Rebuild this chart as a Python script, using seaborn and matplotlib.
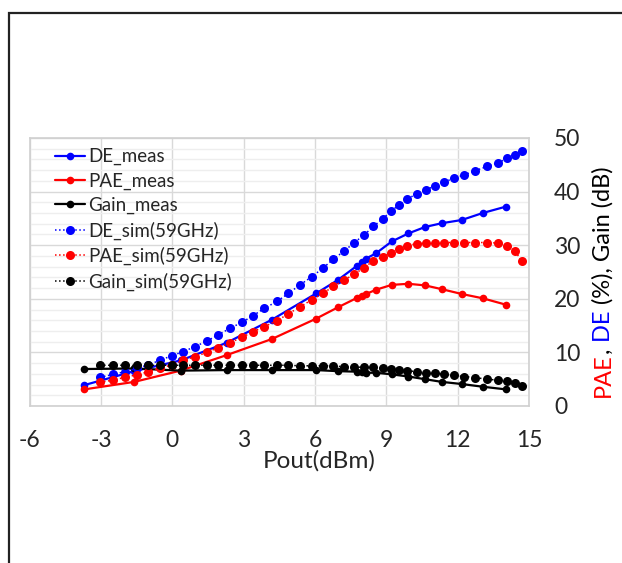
import matplotlib
matplotlib.use("Agg")
import matplotlib.pyplot as plt
import seaborn as sns
from matplotlib.ticker import MultipleLocator
from matplotlib.patches import Rectangle

# measured points
pout_meas = [-3.7, -1.6, 0.35, 2.29, 4.19, 6.05, 6.96, 7.78, 7.96, 8.15, 8.57,
             9.23, 9.93, 10.63, 11.33, 12.17, 13.05, 14.03]
de_meas = [3.9, 6.5, 8.5, 11.8, 16.1, 21.0, 23.5, 26.2, 26.8, 27.5, 28.5,
           30.7, 32.2, 33.4, 34.1, 34.7, 36.0, 37.2]
pae_meas = [3.1, 4.5, 6.6, 9.5, 12.5, 16.3, 18.4, 20.2, 20.5, 20.9, 21.7,
            22.6, 22.8, 22.5, 21.8, 20.9, 20.1, 18.9]
gain_meas = [6.9, 7.0, 6.6, 6.7, 6.7, 6.7, 6.5, 6.4, 6.3, 6.2, 6.2,
             5.9, 5.5, 5.0, 4.5, 4.1, 3.6, 3.1]

# simulation 59GHz
pout_sim = [-3.04, -2.48, -1.99, -1.50, -1.01, -0.52, -0.02, 0.44, 0.96, 1.45,
            1.94, 2.43, 2.92, 3.38, 3.86, 4.40, 4.88, 5.37, 5.86, 6.33,
            6.77, 7.23, 7.65, 8.07, 8.45, 8.85, 9.18, 9.53, 9.88, 10.28,
            10.66, 11.05, 11.44, 11.85, 12.27, 12.73, 13.25, 13.71, 14.09, 14.41,
            14.69]
de_sim = [5.35, 5.9, 6.4, 7.0, 7.7, 8.5, 9.4, 10.1, 11.1, 12.1,
          13.3, 14.5, 15.6, 16.8, 18.2, 19.5, 21.0, 22.6, 24.1, 25.7,
          27.4, 28.9, 30.5, 31.9, 33.5, 34.9, 36.3, 37.5, 38.7, 39.5,
          40.3, 41.1, 41.8, 42.5, 43.1, 43.9, 44.7, 45.4, 46.2, 46.9,
          47.5]
pae_sim = [4.4, 4.85, 5.35, 5.8, 6.4, 7.0, 7.7, 8.5, 9.2, 10.0,
           10.9, 11.8, 12.8, 13.8, 14.8, 15.9, 17.2, 18.5, 19.8, 21.0,
           22.3, 23.5, 24.6, 25.8, 27.1, 27.8, 28.5, 29.3, 29.9, 30.3,
           30.4, 30.5, 30.5, 30.5, 30.5, 30.5, 30.5, 30.4, 29.9, 28.9,
           27.1]
gain_sim = [7.6, 7.6, 7.6, 7.6, 7.6, 7.6, 7.6, 7.6, 7.6, 7.6,
            7.6, 7.6, 7.6, 7.6, 7.6, 7.6, 7.6, 7.5, 7.5, 7.5,
            7.5, 7.3, 7.3, 7.2, 7.2, 7.0, 6.9, 6.7, 6.6, 6.4,
            6.2, 6.1, 5.9, 5.7, 5.5, 5.3, 5.0, 4.8, 4.7, 4.35,
            3.7]

x_ticks = [-6, -3, 0, 3, 6, 9, 12, 15]
y_ticks = [0, 10, 20, 30, 40, 50]

sns.set_theme(style="white")
plt.rcParams["font.family"] = ["Lato", "DejaVu Sans"]
plt.rcParams["axes.unicode_minus"] = False

W, H = 622, 563
fig = plt.figure(figsize=(W / 100, H / 100), dpi=100)
ax = fig.add_axes([29.6 / W, 1 - 406 / H, (529 - 29.6) / W, (406 - 138) / H])

meas = [(de_meas, "blue", "DE_meas"), (pae_meas, "red", "PAE_meas"),
        (gain_meas, "black", "Gain_meas")]
sims = [(de_sim, "blue", "DE_sim(59GHz)"), (pae_sim, "red", "PAE_sim(59GHz)"),
        (gain_sim, "black", "Gain_sim(59GHz)")]
for yy, c, lab in meas:
    sns.lineplot(x=pout_meas, y=yy, color=c, marker="o", markersize=5.5,
                 markeredgewidth=0, linewidth=1.6, label=lab, ax=ax)
for yy, c, lab in sims:
    sns.lineplot(x=pout_sim, y=yy, color=c, marker="o", markersize=6.5,
                 markeredgewidth=0, linewidth=1.1, linestyle=":", label=lab, ax=ax)

ax.set_xlim(-6, 15)
ax.set_ylim(0, 50)
ax.set_xticks(x_ticks)
ax.set_yticks(y_ticks)
ax.yaxis.set_minor_locator(MultipleLocator(2))
ax.yaxis.tick_right()
ax.tick_params(axis="both", which="both", length=0, labelsize=16.5)
ax.tick_params(axis="x", pad=17)
ax.tick_params(axis="y", pad=18)
for lbl in ax.get_yticklabels():
    lbl.set_horizontalalignment("left")
ax.grid(True, which="major", color="#d9d9d9", linewidth=1)
ax.grid(True, which="minor", axis="y", color="#eeeeee", linewidth=1)
ax.set_axisbelow(True)
for sp in ax.spines.values():
    sp.set_color("#d0d0d0")
    sp.set_linewidth(1.2)
ax.set_xlabel("Pout(dBm)", fontsize=17.5)
ax.xaxis.set_label_coords(0.58, -0.165)
ax.xaxis.label.set_verticalalignment("top")
ax.set_ylabel("")

ax.legend(loc="upper left", bbox_to_anchor=(0.035, 0.99), frameon=False,
          fontsize=13.5, handlelength=1.6, handletextpad=0.2,
          labelspacing=0.38, borderaxespad=0)

# coloured right-hand axis title
fig.canvas.draw()
renderer = fig.canvas.get_renderer()
pieces = [("PAE", "red"), (",", "black"), (" DE", "blue"), (" (%), Gain (dB)", "black")]
ypos = H - 397
for s, c in pieces:
    t = fig.text(610 / W, ypos / H, s, color=c, fontsize=17, rotation=90,
                 rotation_mode="anchor", ha="left", va="baseline")
    ypos += t.get_window_extent(renderer).height

# outer frame
fig.add_artist(Rectangle((9 / W, -0.1), 1.2, 0.1 + (H - 13) / H, fill=False,
                         edgecolor="#222222", linewidth=1.6,
                         transform=fig.transFigure, clip_on=False))

fig.savefig("out.png", dpi=100)
